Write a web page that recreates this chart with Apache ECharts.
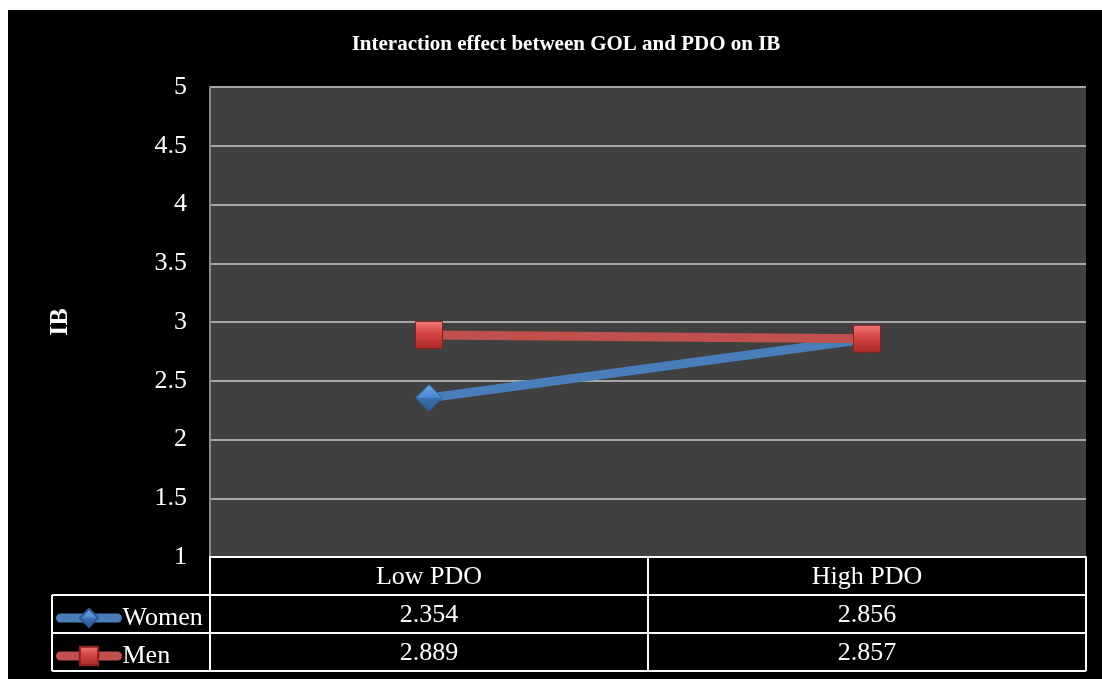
<!DOCTYPE html>
<html><head><meta charset="utf-8">
<script src="https://cdn.jsdelivr.net/npm/echarts@6/dist/echarts.min.js"></script>
<style>html,body{margin:0;padding:0;background:#fff}#c{width:1102px;height:679px}</style>
</head><body><div id="c"></div>
<script>
const categories = ['Low PDO', 'High PDO'];
const women = [2.354, 2.856];
const men = [2.889, 2.857];
const seriesNames = ['Women', 'Men'];
const yTicks = [1, 1.5, 2, 2.5, 3, 3.5, 4, 4.5, 5];

const SERIF = '"Liberation Serif","Times New Roman",serif';
const G = {left: 210, top: 87, right: 1086, bottom: 557};
const rowH = 38;

const chart = echarts.init(document.getElementById('c'));
const blueGrad = new echarts.graphic.LinearGradient(0,0,0,1,[{offset:0,color:'#6ea6ea'},{offset:0.5,color:'#4a86d0'},{offset:0.5,color:'#3a6fb0'},{offset:1,color:'#2e5c96'}]);
const redGrad = new echarts.graphic.LinearGradient(0,0,0,1,[{offset:0,color:'#f07a78'},{offset:0.45,color:'#d44442'},{offset:1,color:'#a82a28'}]);

chart.setOption({
  backgroundColor: '#fff',
  animation: false,
  title: {
    text: 'Interaction effect between GOL and PDO on IB',
    left: 561, top: 29, textAlign: 'center',
    textStyle: {color: '#fff', fontFamily: SERIF, fontWeight: 'bold', fontSize: 21}
  },
  grid: {left: G.left, top: G.top, width: G.right - G.left, height: G.bottom - G.top,
    show: true, backgroundColor: '#404040', borderWidth: 0},
  legend: {
    orient: 'vertical', left: 51, top: 600, itemGap: 12, itemWidth: 57, itemHeight: 23,
    data: seriesNames,
    lineStyle: {width: 9, cap: 'round'},
    textStyle: {color: '#fff', fontFamily: SERIF, fontSize: 26},
    selectedMode: false
  },
  xAxis: {
    type: 'category', data: categories, boundaryGap: true,
    axisLine: {show: true, lineStyle: {color: '#fff', width: 2}},
    axisTick: {show: false},
    axisLabel: {color: '#fff', fontFamily: SERIF, fontSize: 26, margin: 7},
    splitLine: {show: false}
  },
  yAxis: {
    type: 'value', min: 1, max: 5, interval: 0.5,
    name: 'IB', nameLocation: 'middle', nameGap: 137, nameRotate: 90,
    nameTextStyle: {color: '#fff', fontFamily: SERIF, fontSize: 26, fontWeight: 'bold'},
    axisLine: {show: true, lineStyle: {color: '#888', width: 2}},
    axisTick: {show: false},
    axisLabel: {color: '#fff', fontFamily: SERIF, fontSize: 26, margin: 23,
      formatter: v => yTicks.includes(v) ? String(v) : ''},
    splitLine: {show: true, lineStyle: {color: '#a6a6a6', width: 2}}
  },
  series: [
    {name: seriesNames[0], type: 'line', data: women, symbol: 'diamond', symbolSize: 27,
      lineStyle: {color: '#4a7ebb', width: 9, cap: 'round'},
      itemStyle: {color: blueGrad, borderColor: '#2a5a90', borderWidth: 1},
      z: 3},
    {name: seriesNames[1], type: 'line', data: men, symbol: 'rect', symbolSize: 27,
      lineStyle: {color: '#c0504d', width: 9, cap: 'round'},
      itemStyle: {color: redGrad, borderColor: '#8a2020', borderWidth: 1},
      z: 4}
  ]
});

function drawTable() {
  const els = [];
  els.push({type: 'rect', shape: {x: 8, y: 10, width: 1094, height: 669}, style: {fill: '#000'}, z: -10, silent: true});
  const lineStyle = {stroke: '#fff', lineWidth: 2};
  const rows = [women, men];
  const yTop = G.bottom, yEnd = G.bottom + rowH * 3;
  for (let r = 1; r <= 3; r++) {
    const y = yTop + rowH * r;
    els.push({type: 'line', shape: {x1: 52, y1: y, x2: G.right, y2: y}, style: lineStyle, z: 10});
  }
  els.push({type: 'line', shape: {x1: 52, y1: yTop + rowH, x2: 52, y2: yEnd}, style: lineStyle, z: 10});
  const bandW = (G.right - G.left) / categories.length;
  for (let c = 0; c <= categories.length; c++) {
    const x = G.left + bandW * c;
    els.push({type: 'line', shape: {x1: x, y1: yTop, x2: x, y2: yEnd}, style: lineStyle, z: 10});
  }
  rows.forEach((vals, r) => {
    vals.forEach((v, c) => {
      const cx = chart.convertToPixel({xAxisIndex: 0}, categories[c]);
      els.push({type: 'text', x: cx, y: yTop + rowH * (r + 1) + rowH / 2 + 1,
        style: {text: v.toFixed(3), fill: '#fff', font: '26px ' + SERIF, align: 'center', verticalAlign: 'middle'}, z: 10});
    });
  });
  chart.setOption({graphic: els});
}
drawTable();
</script></body></html>
